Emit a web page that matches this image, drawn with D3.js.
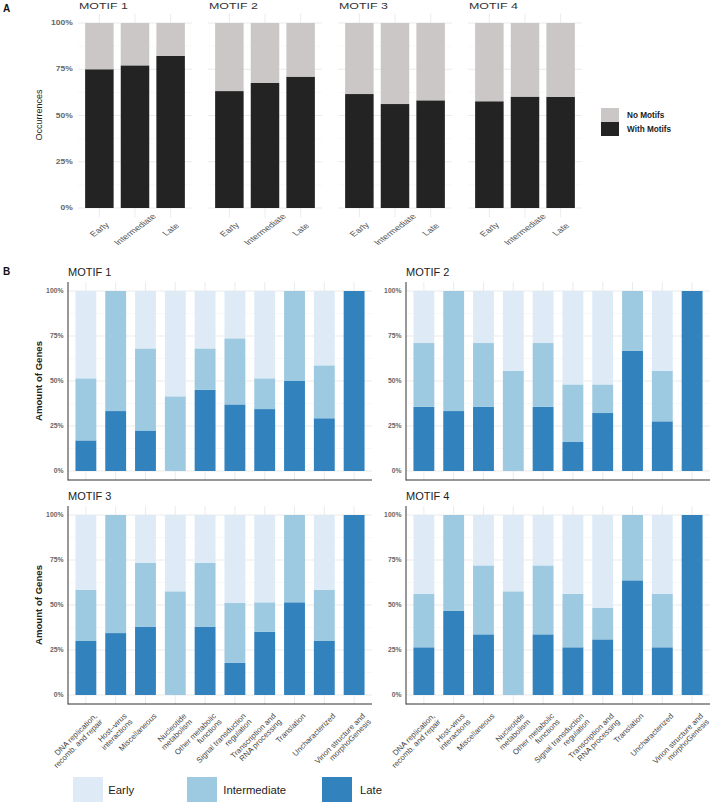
<!DOCTYPE html>
<html><head><meta charset="utf-8">
<script src="https://cdn.jsdelivr.net/npm/d3@7"></script>
<style>
body{margin:0;background:#fff}
svg{display:block;font-family:"Liberation Sans",Arial,Helvetica,sans-serif}
</style>
</head><body>
<svg id="chart" width="714" height="805"></svg>
<script>
// ---------- DATA ----------
const motifs = ["MOTIF 1", "MOTIF 2", "MOTIF 3", "MOTIF 4"];
const stages = ["Early", "Intermediate", "Late"];
// Panel A: share of genes (%) per stage
const withMotifs = [[75.0, 77.1, 82.3], [63.2, 67.7, 71.0], [61.6, 56.2, 58.2], [57.7, 60.2, 60.0]];
const noMotifs   = [[25.0, 22.9, 17.7], [36.8, 32.3, 29.0], [38.4, 43.8, 41.8], [42.3, 39.8, 40.0]];
const yTicksA = [0, 25, 50, 75, 100];

// Panel B: functional categories
const categories = [
  "DNA replication,\nrecomb. and repair", "Host\u2013virus\ninteractions", "Miscellaneous",
  "Nucleotide\nmetabolism", "Other metabolic\nfunctions", "Signal transduction\nregulation",
  "Transcription and\nRNA processing", "Translation", "Uncharacterized",
  "Virion structure and\nmorphoGenesis"
];
const lateM1  = [17.0, 33.3, 22.5, 0, 45.2, 37.0, 34.4, 50.0, 29.3, 100];
const interM1 = [34.5, 66.7, 45.6, 41.5, 22.9, 36.7, 17.1, 50.0, 29.4, 0];
const earlyM1 = [48.5, 0, 31.9, 58.5, 31.9, 26.3, 48.5, 0, 41.3, 0];

const lateM2  = [35.6, 33.3, 35.6, 0, 35.6, 16.1, 32.2, 66.7, 27.6, 100];
const interM2 = [35.5, 66.7, 35.5, 55.6, 35.5, 32.0, 15.9, 33.3, 28.0, 0];
const earlyM2 = [28.9, 0, 28.9, 44.4, 28.9, 51.9, 51.9, 0, 44.4, 0];

const lateM3  = [30.0, 34.4, 38.0, 0, 38.0, 17.8, 35.2, 51.5, 30.0, 100];
const interM3 = [28.5, 65.6, 35.5, 57.6, 35.5, 33.3, 16.3, 48.5, 28.5, 0];
const earlyM3 = [41.5, 0, 26.5, 42.4, 26.5, 48.9, 48.5, 0, 41.5, 0];

const lateM4  = [26.5, 46.7, 33.7, 0, 33.7, 26.5, 30.9, 63.7, 26.5, 100];
const interM4 = [29.8, 53.3, 38.3, 57.6, 38.3, 29.8, 17.6, 36.3, 29.8, 0];
const earlyM4 = [43.7, 0, 28.0, 42.4, 28.0, 43.7, 51.5, 0, 43.7, 0];

const seriesB = [
  {late: lateM1, inter: interM1, early: earlyM1},
  {late: lateM2, inter: interM2, early: earlyM2},
  {late: lateM3, inter: interM3, early: earlyM3},
  {late: lateM4, inter: interM4, early: earlyM4}
];
const yTicksB = [0, 25, 50, 75, 100];
const legendB = ["Early", "Intermediate", "Late"];

// ---------- STYLE ----------
const colA = {with: "#232323", no: "#cbc7c7"};
const colB = {early: "#deebf7", inter: "#9ecae1", late: "#3182bd"};
const gridMajor = "#e6e6e6", gridMinor = "#f1f1f1";
const pct = d => d + "%";

const svg = d3.select("#chart");

// ================= PANEL A =================
svg.append("text").attr("x", 3).attr("y", 12).attr("font-size", 10).attr("font-weight", "bold")
  .attr("fill", "#111").text("A");

const yA = d3.scaleLinear().domain([0, 100]).range([208, 23]);
const aTop = 13.5, aBottom = 217.5, aW = 114;
const facetAX = [78, 208, 338, 468];
const sx = 1.35; // horizontal stretch of panel A text

motifs.forEach((m, fi) => {
  const x0 = facetAX[fi];
  const g = svg.append("g");
  const x = d3.scalePoint().domain(stages).range([x0, x0 + aW]).padding(0.6);
  const bw = x.step() * 0.8;
  d3.range(0, 100.1, 12.5).forEach(v => {
    g.append("line").attr("x1", x0).attr("x2", x0 + aW).attr("y1", yA(v)).attr("y2", yA(v))
      .attr("stroke", v % 25 === 0 ? gridMajor : gridMinor).attr("stroke-width", v % 25 === 0 ? 0.8 : 0.5);
  });
  stages.forEach(s => {
    g.append("line").attr("x1", x(s)).attr("x2", x(s)).attr("y1", aTop).attr("y2", aBottom)
      .attr("stroke", gridMajor).attr("stroke-width", 0.8);
  });
  const rows = stages.map((s, i) => ({stage: s, with: withMotifs[fi][i], no: noMotifs[fi][i]}));
  const st = d3.stack().keys(["with", "no"])(rows);
  st.forEach(layer => {
    g.selectAll(null).data(layer).enter().append("rect")
      .attr("x", d => x(d.data.stage) - bw / 2).attr("width", bw)
      .attr("y", d => yA(d[1])).attr("height", d => yA(d[0]) - yA(d[1]))
      .attr("fill", colA[layer.key]);
  });
  g.append("text").attr("transform", `translate(${x0 + 1},8.5) scale(${sx},1)`)
    .attr("font-size", 9.2).attr("fill", "#333").text(m);
  stages.forEach(s => {
    g.append("text").attr("transform", `translate(${x(s)},229.5) scale(${sx},1) rotate(-45)`)
      .attr("text-anchor", "middle").attr("dominant-baseline", "central")
      .attr("font-size", 7.3).attr("fill", "#555").text(s);
  });
  if (fi === 0) {
    yTicksA.forEach(v => {
      g.append("text").attr("transform", `translate(72.7,${yA(v)}) scale(${sx},1)`)
        .attr("text-anchor", "end").attr("dy", "0.35em").attr("font-size", 6.3)
        .attr("font-weight", "bold").attr("fill", "#666").text(pct(v));
    });
  }
});
svg.append("text").attr("transform", "translate(41.5,115) rotate(-90)")
  .attr("text-anchor", "middle").attr("font-size", 9).attr("fill", "#222").text("Occurrences");

const legA = [{k: "no", label: "No Motifs"}, {k: "with", label: "With Motifs"}];
legA.forEach((d, i) => {
  svg.append("rect").attr("x", 601).attr("y", 108 + i * 14).attr("width", 18).attr("height", 14)
    .attr("fill", colA[d.k]);
  svg.append("text").attr("x", 627).attr("y", 118 + i * 13.5).attr("font-size", 8.2)
    .attr("font-weight", "bold").attr("fill", "#222").text(d.label);
});

// ================= PANEL B =================
svg.append("text").attr("x", 3).attr("y", 275).attr("font-size", 10).attr("font-weight", "bold")
  .attr("fill", "#111").text("B");

const facetsB = [
  {x0: 68, x1: 372, top: 282, bottom: 480, y100: 291, y0: 471},
  {x0: 406, x1: 710, top: 282, bottom: 480, y100: 291, y0: 471},
  {x0: 68, x1: 372, top: 506, bottom: 704, y100: 515, y0: 695},
  {x0: 406, x1: 710, top: 506, bottom: 704, y100: 515, y0: 695}
];

facetsB.forEach((f, fi) => {
  const g = svg.append("g");
  const x = d3.scalePoint().domain(categories).range([f.x0, f.x1]).padding(0.6);
  const y = d3.scaleLinear().domain([0, 100]).range([f.y0, f.y100]);
  const bw = x.step() * 0.7;
  d3.range(0, 100.1, 12.5).forEach(v => {
    g.append("line").attr("x1", f.x0).attr("x2", f.x1).attr("y1", y(v)).attr("y2", y(v))
      .attr("stroke", v % 25 === 0 ? gridMajor : gridMinor).attr("stroke-width", v % 25 === 0 ? 0.8 : 0.5);
  });
  categories.forEach(c => {
    g.append("line").attr("x1", x(c)).attr("x2", x(c)).attr("y1", f.top).attr("y2", f.bottom)
      .attr("stroke", gridMajor).attr("stroke-width", 0.8);
  });
  const s = seriesB[fi];
  const rows = categories.map((c, i) => ({cat: c, late: s.late[i], inter: s.inter[i], early: s.early[i]}));
  const st = d3.stack().keys(["late", "inter", "early"])(rows);
  st.forEach(layer => {
    g.selectAll(null).data(layer.filter(d => d[1] - d[0] > 0)).enter().append("rect")
      .attr("x", d => x(d.data.cat) - bw / 2).attr("width", bw)
      .attr("y", d => y(d[1])).attr("height", d => y(d[0]) - y(d[1]))
      .attr("fill", colB[layer.key]);
  });
  g.append("line").attr("x1", f.x0).attr("x2", f.x0).attr("y1", f.top).attr("y2", f.bottom + 0.5)
    .attr("stroke", "#333").attr("stroke-width", 1);
  g.append("line").attr("x1", f.x0).attr("x2", f.x1).attr("y1", f.bottom).attr("y2", f.bottom)
    .attr("stroke", "#333").attr("stroke-width", 1);
  yTicksB.forEach(v => {
    g.append("text").attr("x", f.x0 - 4.5).attr("y", y(v)).attr("dy", "0.35em")
      .attr("text-anchor", "end").attr("font-size", 6.8).attr("font-weight", "bold")
      .attr("fill", "#666").text(pct(v));
  });
  g.append("text").attr("x", f.x0).attr("y", f.top - 6.5).attr("font-size", 11)
    .attr("fill", "#222").text(motifs[fi]);
  if (fi % 2 === 0) {
    g.append("text").attr("transform", `translate(41.5,${(f.top + f.bottom) / 2}) rotate(-90)`)
      .attr("text-anchor", "middle").attr("font-size", 9.6).attr("font-weight", "bold")
      .attr("fill", "#222").text("Amount of Genes");
  }
  if (fi >= 2) {
    categories.forEach(c => {
      const t = g.append("text")
        .attr("transform", `translate(${x(c) + 11.5},${f.bottom + 12.5}) rotate(-45)`)
        .attr("text-anchor", "end").attr("font-size", 7.8).attr("fill", "#444");
      c.split("\n").forEach((ln, li) => {
        t.append("tspan").attr("x", 0).attr("dy", li === 0 ? 0 : "1.05em").text(ln);
      });
    });
  }
});

const legKeys = ["early", "inter", "late"];
const legX = [73, 187, 322], legTX = [108.3, 223.3, 360];
legendB.forEach((lab, i) => {
  svg.append("rect").attr("x", legX[i]).attr("y", 777).attr("width", 30).attr("height", 25)
    .attr("fill", colB[legKeys[i]]);
  svg.append("text").attr("x", legTX[i]).attr("y", 793.5).attr("font-size", 11.3)
    .attr("fill", "#222").text(lab);
});
</script>
</body></html>
